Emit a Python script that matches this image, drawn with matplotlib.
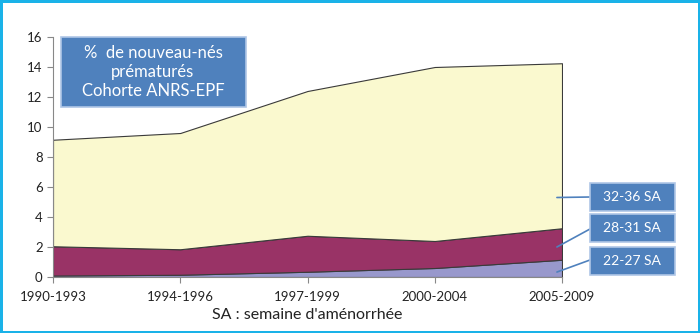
import matplotlib.pyplot as plt
from matplotlib.patches import Rectangle

# data: % of premature newborns by gestational age group (stacked)
periods = ['1990-1993', '1994-1996', '1997-1999', '2000-2004', '2005-2009']
sa_22_27 = [0.1, 0.15, 0.35, 0.6, 1.15]
sa_28_31 = [1.95, 1.7, 2.4, 1.8, 2.1]
sa_32_36 = [7.1, 7.75, 9.65, 11.6, 11.0]
labels = ['22-27 SA', '28-31 SA', '32-36 SA']

plt.rcParams['font.family'] = ['Lato', 'DejaVu Sans']

W, H = 700, 333
fig = plt.figure(figsize=(7, 3.33), dpi=100, edgecolor='#1AB2E8', linewidth=2.5)
ax = fig.add_axes([53 / W, 1 - 277 / H, 509 / W, 240 / H])

x = list(range(len(periods)))
colors = ['#9898CC', '#993366', '#FAF9CF']
ax.stackplot(x, sa_22_27, sa_28_31, sa_32_36, colors=colors,
             edgecolor='#3A3A3A', linewidth=0.8)

ax.set_xlim(0, len(periods) - 1)
ax.set_ylim(0, 16)
ax.set_yticks(range(0, 17, 2))
ax.set_xticks(x)
ax.set_xticklabels(periods)
for s in ['top', 'right']:
    ax.spines[s].set_visible(False)
for s in ['left', 'bottom']:
    ax.spines[s].set_color('#888888')
ax.tick_params(axis='both', labelsize=9.5, colors='#222222', length=4,
               color='#888888')
ax.tick_params(axis='x', pad=6)
ax.set_xlabel("SA : semaine d'aménorrhée", fontsize=11.5, color='#222222',
              labelpad=4)


def fig_box(x0, y0, x1, y1):
    # pixel coords from top-left -> figure fraction rectangle
    r = Rectangle((x0 / W, 1 - y1 / H), (x1 - x0) / W, (y1 - y0) / H,
                  transform=fig.transFigure, facecolor='#4F81BD',
                  edgecolor='#AFC6E6', linewidth=1.2, zorder=5)
    fig.patches.append(r)


# title box
fig_box(61, 37, 246, 107)
fig.text(153 / W, 1 - 72 / H, '%  de nouveau-nés\nprématurés\nCohorte ANRS-EPF',
         color='white', fontsize=12, ha='center', va='center',
         linespacing=1.2, zorder=6)

# series label boxes with leader lines
boxes = [(247, 275), (214, 242), (183, 211)]
targets = [0.33, 2.0, 5.3]
line_y = [260, 229, 197]
for lab, (y0, y1), ty, ly in zip(labels, boxes, targets, line_y):
    fig_box(590, y0, 675, y1)
    fig.text(632 / W, 1 - (y0 + y1) / 2 / H, lab, color='white', fontsize=10,
             ha='center', va='center', zorder=6)
    ax.annotate('', xy=(3.96, ty), xycoords='data',
                xytext=(590 / W, 1 - ly / H), textcoords='figure fraction',
                arrowprops=dict(arrowstyle='-', color='#4F81BD', lw=1.2,
                                shrinkA=0, shrinkB=0),
                annotation_clip=False)

fig.savefig('out.png', dpi=100, edgecolor=fig.get_edgecolor())
